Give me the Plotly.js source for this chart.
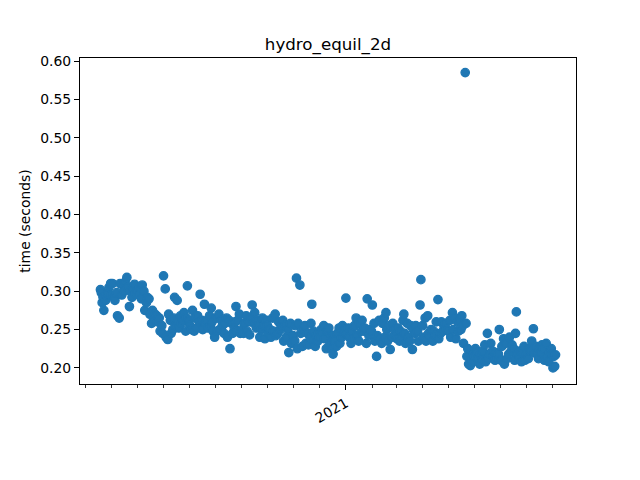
<!DOCTYPE html>
<html>
<head>
<meta charset="utf-8">
<script src="https://cdn.plot.ly/plotly-3.0.1.min.js"></script>
<style>html,body{margin:0;padding:0;background:#fff}#chart{width:640px;height:480px}</style>
</head>
<body>
<div id="chart"></div>
<script>
// Month labels, first day of data in each month, and daily values (seconds); null = no run that day
const months = ['2020-03','2020-04','2020-05','2020-06','2020-07','2020-08','2020-09','2020-10','2020-11','2020-12',
                '2021-01','2021-02','2021-03','2021-04','2021-05','2021-06','2021-07','2021-08','2021-09'];
const firstDay = [19,1,1,1,1,1,1,1,1,1,1,1,1,1,1,1,1,1,1];

const v2020_03 = [0.302,0.298,0.285,0.292,0.275,null,0.288,0.295,null,0.297,0.305,null,0.310];
const v2020_04 = [0.295,0.310,null,0.292,0.288,null,0.298,0.268,null,0.265,0.310,null,0.295,0.308,null,0.300,0.312,null,0.318,0.305,null,0.280,0.300,null,0.292,0.303,null,0.309,0.297,null];
const v2020_05 = [0.300,null,0.295,0.305,null,0.290,0.308,null,0.300,0.275,null,0.285,0.292,null,0.290,0.270,null,0.258,0.275,null,0.262,0.270,null,0.268,0.260,null,0.265,0.248,null,0.255,0.245];
const v2020_06 = [0.320,null,0.303,0.240,null,0.237,0.270,null,0.262,0.245,null,0.250,0.265,0.292,0.255,null,0.288,0.260,0.252,null,0.268,0.258,null,0.262,0.272,null,0.248,0.265,0.307,null];
const v2020_07 = [0.262,0.255,null,0.250,0.275,null,0.248,0.265,null,0.252,0.268,null,0.260,0.296,null,0.262,0.250,null,0.283,0.258,null,0.262,0.252,null,0.268,0.255,0.278,0.260,0.248,null,0.240];
const v2020_08 = [null,0.265,0.248,null,0.270,0.250,null,0.262,0.255,null,0.245,0.258,null,0.265,0.240,null,0.262,0.225,null,0.258,0.245,null,0.252,0.260,0.280,0.248,0.262,null,0.270,0.245,null];
const v2020_09 = [0.250,null,0.245,0.258,null,0.268,0.248,null,0.260,0.243,null,0.265,0.282,null,0.258,0.272,null,0.252,0.262,null,0.255,0.240,null,0.250,0.265,null,0.255,0.238,null,0.262];
const v2020_10 = [0.255,0.245,null,0.250,0.240,null,0.265,0.248,null,0.270,0.242,null,0.245,0.260,null,0.250,0.255,null,0.262,0.235,null,0.255,0.240,null,0.250,0.220,null,0.258,0.232,null,0.242];
const v2020_11 = [null,0.235,0.255,0.317,0.225,0.258,null,0.308,0.245,null,0.228,0.250,null,0.255,0.232,null,0.245,0.230,null,0.240,0.258,0.283,0.235,0.248,null,0.228,0.242,null,0.235,0.245];
const v2020_12 = [0.240,null,0.250,0.245,null,0.255,0.238,null,0.225,0.248,null,0.252,0.230,null,0.240,0.225,0.218,0.242,0.235,null,0.228,0.245,null,0.252,0.232,null,0.240,0.255,null,0.245,0.250];
const v2021_01 = [0.291,0.245,null,0.252,0.240,null,0.232,0.248,null,0.238,0.255,null,0.265,0.242,null,0.235,0.258,null,0.248,0.262,null,0.248,0.252,null,0.232,0.290,null,0.242,0.250,null,0.248];
const v2021_02 = [0.282,null,0.258,0.235,null,0.215,0.242,null,0.262,0.238,null,0.232,0.258,null,0.265,0.240,0.272,0.250,0.235,null,0.255,0.224,null,0.240,0.258,null,0.250,0.242];
const v2021_03 = [null,0.238,0.252,null,0.235,0.248,null,0.240,0.262,0.270,0.245,0.232,null,0.258,0.240,null,0.235,0.255,null,0.224,0.250,null,0.245,0.255,null,0.248,0.235,null,0.282,0.315,null];
const v2021_04 = [0.255,0.240,null,0.265,0.235,null,0.268,0.245,null,0.240,0.250,null,0.235,0.248,null,0.242,0.260,null,0.289,0.238,null,0.245,0.260,null,0.248,0.255,null,0.258,0.250,null];
const v2021_05 = [0.248,null,0.262,0.240,null,0.272,0.250,null,0.265,0.238,null,0.260,0.248,null,0.262,0.250,0.268,0.255,0.232,null,0.585,0.258,0.215,0.225,0.205,null,0.203,0.212,null,0.208,0.218];
const v2021_06 = [0.215,0.225,null,0.220,0.212,null,0.205,0.218,null,0.210,0.222,null,0.230,0.208,null,0.245,0.212,null,0.218,0.232,null,0.222,0.215,null,0.210,0.220,null,0.212,0.218,0.250];
const v2021_07 = [null,0.210,0.228,null,0.238,0.205,null,0.232,0.212,null,0.218,0.240,null,0.222,0.230,null,0.225,0.210,0.245,0.273,0.218,null,0.212,0.222,null,0.208,0.220,null,0.228,0.210,null];
const v2021_08 = [0.218,null,0.212,0.225,null,0.222,0.235,null,0.251,0.220,null,0.228,0.218,null,0.212,0.225,null,0.220,0.230,null,0.225,0.210,null,0.232,0.215,null,0.208,0.220,null,0.225,0.218];
const v2021_09 = [0.200,0.215,0.202,0.217];

const monthValues = [v2020_03,v2020_04,v2020_05,v2020_06,v2020_07,v2020_08,v2020_09,v2020_10,v2020_11,v2020_12,
                     v2021_01,v2021_02,v2021_03,v2021_04,v2021_05,v2021_06,v2021_07,v2021_08,v2021_09];

const xTickVals = ['2021-01-01'];
const xTickText = ['2021'];

const xs = [], ys = [];
monthValues.forEach((arr, mi) => {
  arr.forEach((v, i) => {
    if (v === null) return;
    const d = firstDay[mi] + i;
    xs.push(months[mi] + '-' + String(d).padStart(2, '0'));
    ys.push(v);
  });
});

const color = '#1f77b4';
const trace = {
  type: 'scatter', mode: 'markers', x: xs, y: ys,
  marker: {size: 8.3, color: color, line: {color: color, width: 1.4}},
  hoverinfo: 'skip'
};

const font = {family: 'DejaVu Sans, sans-serif', color: '#000'};
const layout = {
  width: 640, height: 480,
  margin: {l: 80, r: 64, t: 58, b: 96},
  paper_bgcolor: '#fff', plot_bgcolor: '#fff',
  showlegend: false,
  font: Object.assign({size: 13.9}, font),
  title: {text: 'hydro_equil_2d', font: Object.assign({size: 16.7}, font),
          x: 0.5125, xref: 'container', y: 1 - 44/480, yref: 'container', yanchor: 'middle'},
  xaxis: {
    type: 'date', range: ['2020-02-24', '2021-09-28'],
    tickmode: 'array', tickvals: xTickVals, ticktext: xTickText, tickangle: -30,
    ticks: 'outside', ticklen: 4.9, tickwidth: 1.1, tickcolor: '#000',
    showgrid: false, zeroline: false,
    showline: true, linecolor: '#000', linewidth: 1.1, mirror: true,
    tickfont: Object.assign({size: 13.9}, font),
    minor: {dtick: 'M1', tick0: '2020-01-01', ticks: 'outside', ticklen: 2.8, tickwidth: 0.8, tickcolor: '#000', showgrid: false}
  },
  yaxis: {
    range: [0.179, 0.604], dtick: 0.05, tick0: 0, tickformat: '.2f',
    ticks: 'outside', ticklen: 4.9, tickwidth: 1.1, tickcolor: '#000',
    showgrid: false, zeroline: false,
    showline: true, linecolor: '#000', linewidth: 1.1, mirror: true,
    tickfont: Object.assign({size: 13.9}, font),
    title: {text: 'time (seconds)', font: Object.assign({size: 13.9}, font), standoff: 6}
  }
};

Plotly.newPlot('chart', [trace], layout, {staticPlot: true, displayModeBar: false});
</script>
</body>
</html>
